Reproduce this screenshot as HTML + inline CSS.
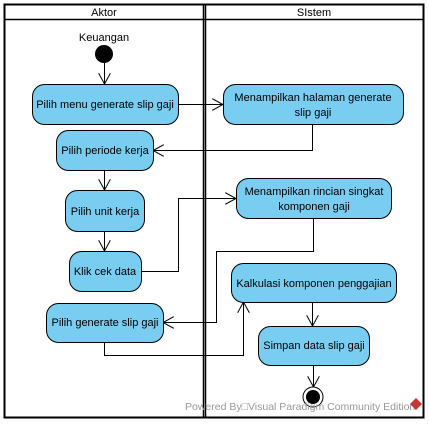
<!DOCTYPE html>
<html><head><style>
body{margin:0;background:#fff}
svg text{font-family:"Liberation Sans",sans-serif;font-size:11px;fill:#000}
</style></head><body>
<svg width="429" height="423" viewBox="0 0 429 423" xmlns="http://www.w3.org/2000/svg">
<defs><marker id="a" markerWidth="12" markerHeight="12" refX="11" refY="6" orient="auto" markerUnits="userSpaceOnUse"><path d="M0,0 L11,6 L0,12" fill="none" stroke="#000" stroke-width="1"/></marker></defs>
<rect x="4.5" y="4.5" width="419" height="413" fill="none" stroke="#000" stroke-width="2"/>
<line x1="4" y1="19.5" x2="424" y2="19.5" stroke="#000" stroke-width="1.5"/>
<line x1="203.5" y1="4" x2="203.5" y2="418" stroke="#000" stroke-width="1.5"/>
<line x1="205.5" y1="4" x2="205.5" y2="418" stroke="#000" stroke-width="1.5"/>
<text x="104" y="16" text-anchor="middle">Aktor</text>
<text x="314" y="16" text-anchor="middle">SIstem</text>
<text x="104" y="41" text-anchor="middle">Keuangan</text>
<circle cx="104" cy="54" r="9" fill="#000"/>
<g fill="none" stroke="#000" stroke-width="1">
<path d="M104.5 63V84" marker-end="url(#a)"/>
<path d="M178 104.5H223" marker-end="url(#a)"/>
<path d="M312.5 124V150.5H153" marker-end="url(#a)"/>
<path d="M104.5 170V190" marker-end="url(#a)"/>
<path d="M104.5 231V251" marker-end="url(#a)"/>
<path d="M141 271.5H178.5V198.5H236" marker-end="url(#a)"/>
<path d="M313.5 218V251.5H216.5V322.5H163" marker-end="url(#a)"/>
<path d="M104.5 342V355.5H243.5V302" marker-end="url(#a)"/>
<path d="M312.5 302V326" marker-end="url(#a)"/>
<path d="M313.5 365V387" marker-end="url(#a)"/>
</g>
<g fill="#79cdf1" stroke="#000" stroke-width="1">
<rect x="32.5" y="84.5" width="146" height="40" rx="12"/>
<rect x="223.5" y="84.5" width="180" height="40" rx="12"/>
<rect x="56.5" y="130.5" width="97" height="40" rx="12"/>
<rect x="236.5" y="178.5" width="155" height="40" rx="12"/>
<rect x="65.5" y="190.5" width="79" height="41" rx="12"/>
<rect x="69.5" y="251.5" width="72" height="40" rx="12"/>
<rect x="231.5" y="263.5" width="165" height="39" rx="12"/>
<rect x="46.5" y="303.5" width="117" height="39" rx="12"/>
<rect x="258.5" y="326.5" width="111" height="39" rx="12"/>
</g>
<text x="105" y="108" text-anchor="middle">Pilih menu generate slip gaji</text>
<text x="313" y="101" text-anchor="middle">Menampilkan halaman generate</text>
<text x="313" y="116" text-anchor="middle">slip gaji</text>
<text x="105" y="154" text-anchor="middle">Pilih periode kerja</text>
<text x="314" y="195" text-anchor="middle">Menampilkan rincian singkat</text>
<text x="314" y="210" text-anchor="middle">komponen gaji</text>
<text x="105" y="215" text-anchor="middle">Pilih unit kerja</text>
<text x="105" y="275" text-anchor="middle">Klik cek data</text>
<text x="314" y="287" text-anchor="middle">Kalkulasi komponen penggajian</text>
<text x="105" y="326" text-anchor="middle">Pilih generate slip gaji</text>
<text x="314" y="349" text-anchor="middle">Simpan data slip gaji</text>
<circle cx="313" cy="397" r="10" fill="#fff" stroke="#000" stroke-width="1"/>
<circle cx="313" cy="397" r="7" fill="#000"/>
<text x="185" y="410" style="fill:#999;font-size:10.5px">Powered By□Visual Paradigm Community Edition</text>
<path d="M416 398l6 6-6 6-6-6z" fill="#c33"/>
</svg>
</body></html>
